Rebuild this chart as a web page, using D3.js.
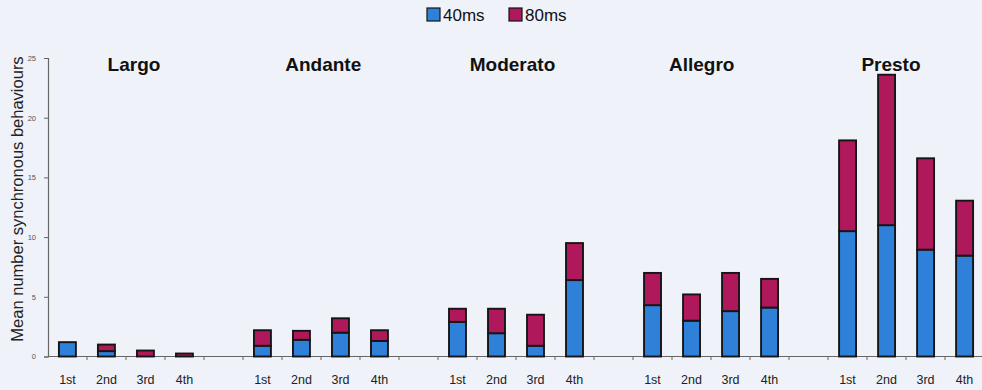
<!DOCTYPE html>
<html><head><meta charset="utf-8">
<script src="https://cdn.jsdelivr.net/npm/d3@7"></script>
<style>
html,body{margin:0;padding:0;background:#eff2f8;}
svg{display:block;font-family:"Liberation Sans",Arial,sans-serif;}
</style></head>
<body><svg id="chart" width="982" height="390"></svg>
<script>
const tempos = ["Largo","Andante","Moderato","Allegro","Presto"];
const ordinals = ["1st","2nd","3rd","4th"];
const seriesNames = ["40ms","80ms"];
const colors = ["#2f80d8","#b0185c"];
// values per tempo, per ordinal
const ms40 = [
  [1.2, 0.45, 0.0, 0.0],
  [0.9, 1.4, 2.0, 1.3],
  [2.9, 1.95, 0.9, 6.4],
  [4.3, 3.0, 3.8, 4.1],
  [10.5, 11.0, 8.95, 8.45]
];
const ms80 = [
  [0.0, 0.55, 0.5, 0.25],
  [1.3, 0.75, 1.2, 0.9],
  [1.1, 2.05, 2.6, 3.1],
  [2.7, 2.2, 3.2, 2.4],
  [7.6, 12.6, 7.65, 4.6]
];
const yTicks = [0,5,10,15,20,25];
const yTitle = "Mean number synchronous behaviours";

const svg = d3.select("#chart");
const W = 982, H = 390;
svg.append("rect").attr("width",W).attr("height",H).attr("fill","#eff2f8");

// categories with spacer slots between groups
const cats = [];
tempos.forEach((t,gi)=>{
  ordinals.forEach(o=>cats.push(t+"|"+o));
  if(gi<tempos.length-1) cats.push("gap"+gi);
});
const rows = [];
tempos.forEach((t,gi)=>ordinals.forEach((o,oi)=>{
  rows.push({key:t+"|"+o, tempo:t, ord:o, a:ms40[gi][oi], b:ms80[gi][oi]});
}));

const x = d3.scaleBand().domain(cats).range([48,984]).paddingInner(0.565).paddingOuter(0.28);
const xb = d3.scaleBand().domain(cats).range([48,984]);
const y = d3.scaleLinear().domain([0,25]).range([356.5,58]);

// y axis
const yAxis = svg.append("g").attr("transform","translate(48,0)")
  .call(d3.axisLeft(y).tickValues(yTicks).tickSize(4).tickPadding(8));
yAxis.select(".domain").attr("stroke","#666").attr("stroke-width",1.2);
yAxis.selectAll(".tick line").attr("stroke","#666");
yAxis.selectAll(".tick text").attr("fill","#555").attr("font-size",7.5);

// x axis line
svg.append("line").attr("x1",48).attr("x2",982).attr("y1",y(0)).attr("y2",y(0))
  .attr("stroke","#666").attr("stroke-width",1.2);
// x boundary ticks
svg.append("g").selectAll("line").data(cats.slice(1)).join("line")
  .attr("x1",d=>xb(d)).attr("x2",d=>xb(d))
  .attr("y1",y(0)).attr("y2",y(0)+3.5)
  .attr("stroke","#666").attr("stroke-width",1);

// stacked bars
const stack = d3.stack().keys(["a","b"])(rows);
svg.append("g").selectAll("g").data(stack).join("g")
  .attr("fill",(d,i)=>colors[i])
  .selectAll("rect").data(d=>d.filter(s=>s[1]-s[0]>0)).join("rect")
  .attr("x",d=>x(d.data.key))
  .attr("width",x.bandwidth())
  .attr("y",d=>y(d[1]))
  .attr("height",d=>y(d[0])-y(d[1]))
  .attr("stroke","#151515").attr("stroke-width",1.9);

// x labels
svg.append("g").selectAll("text").data(rows).join("text")
  .attr("x",d=>xb(d.key)+xb.bandwidth()/2)
  .attr("y",384)
  .attr("text-anchor","middle")
  .attr("font-family","'Liberation Sans Narrow','Liberation Sans',Arial,sans-serif")
  .attr("font-size",12.5).attr("fill","#222")
  .text(d=>d.ord);

// group titles
const tx = d3.scalePoint().domain(tempos).range([134,891]);
svg.append("g").selectAll("text").data(tempos).join("text")
  .attr("x",d=>tx(d)).attr("y",71)
  .attr("text-anchor","middle").attr("font-weight","bold")
  .attr("font-size",19).attr("fill","#111")
  .text(d=>d);

// y title
svg.append("text").attr("transform","translate(23,199) rotate(-90)")
  .attr("text-anchor","middle").attr("font-size",16.5).attr("fill","#222")
  .text(yTitle);

// legend
const lg = svg.append("g");
const lx = [427, 509];
seriesNames.forEach((s,i)=>{
  lg.append("rect").attr("x",lx[i]).attr("y",8).attr("width",13).attr("height",13)
    .attr("fill",colors[i]).attr("stroke","#151515").attr("stroke-width",1.2);
  lg.append("text").attr("x",lx[i]+16).attr("y",20.5)
    .attr("font-size",17).attr("fill","#111").text(s);
});
</script></body></html>
